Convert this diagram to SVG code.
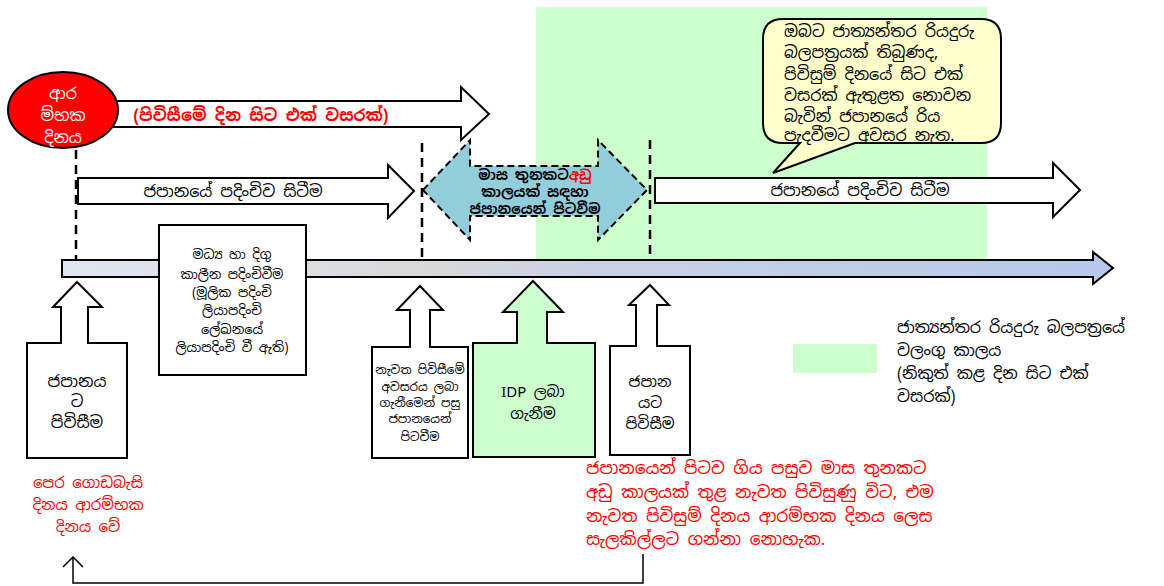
<svg xmlns="http://www.w3.org/2000/svg" width="1164" height="586" viewBox="0 0 1164 586">
<defs>
<linearGradient id="bar" x1="0" y1="0" x2="1" y2="0">
<stop offset="0" stop-color="#dfe5f2"/>
<stop offset="0.35" stop-color="#d9d9d9"/>
<stop offset="0.5" stop-color="#c8d1e4"/>
<stop offset="1" stop-color="#b7c9ec"/>
</linearGradient>
<style>
text{font-family:"Noto Sans Sinhala","Iskoola Pota","Noto Sans","DejaVu Sans",sans-serif;fill:#000}
.c{text-anchor:middle}
.red{fill:#ff0000}
.wht{fill:#ffffff}
.b{font-weight:bold}
.ol{fill:#ffffff;stroke:#000;stroke-width:2;stroke-linejoin:miter}
.dash{stroke:#000;stroke-width:2.5;stroke-dasharray:9,6;fill:none}
</style>
</defs>
<rect width="1164" height="586" fill="#ffffff"/>
<g id="validity-region"><rect x="536" y="7" width="451" height="252" fill="#ccffcc"/></g>

<g id="connectors">
<line class="dash" x1="76" y1="150" x2="76" y2="260"/>
<line class="dash" x1="422" y1="143" x2="422" y2="260"/>
<line class="dash" x1="650" y1="140" x2="650" y2="260"/>
<polyline points="643,554 643,583 73,583 73,557" fill="none" stroke="#000" stroke-width="1.5"/>
<polyline points="63,567 73,557 83,567" fill="none" stroke="#000" stroke-width="1.5"/>
</g>

<g id="timeline">
<polygon points="62,260 1093,260 1093,252 1113,268 1093,284 1093,277 62,277" fill="url(#bar)" stroke="#000" stroke-width="2"/>
</g>

<g id="one-year-arrow">
<polygon class="ol" points="100,101 461,101 461,87 489,114 461,140 461,127 100,127"/>
<text class="c red b" x="261" y="121" font-size="16.5">(පිවිසීමේ දින සිට එක් වසරක්)</text>
</g>

<g id="start-day">
<ellipse cx="63" cy="110" rx="55" ry="38" fill="#ff0000" stroke="#000" stroke-width="2"/>
<text class="c wht" x="63" y="99" font-size="16">ආර</text>
<text class="c wht" x="63" y="121" font-size="16">ම්භක</text>
<text class="c wht" x="63" y="143" font-size="16">දිනය</text>
</g>

<g id="stay-arrow-1">
<polygon class="ol" points="78,178 388,178 388,165 414,191 388,218 388,204 78,204"/>
<text class="c" x="233" y="197" font-size="16">ජපානයේ පදිංචිව සිටීම</text>
</g>

<g id="leave-arrow">
<polygon points="423,190 470,140 470,166 598,166 598,140 647,190 598,240 598,216 470,216 470,240" fill="#92cddc" stroke="#000" stroke-width="2" stroke-dasharray="7,4"/>
<text class="c b" x="535" y="180" font-size="14">මාස තුනකට<tspan class="red">අඩු</tspan></text>
<text class="c b" x="535" y="197" font-size="14">කාලයක් සඳහා</text>
<text class="c b" x="535" y="214" font-size="14">ජපානයෙන් පිටවීම</text>
</g>

<g id="stay-arrow-2">
<polygon class="ol" points="655,178 1053,178 1053,163 1080,190 1053,217 1053,203 655,203"/>
<text class="c" x="860" y="196" font-size="16">ජපානයේ පදිංචිව සිටීම</text>
</g>

<g id="callout">
<path d="M783,19 H981 Q1001,19 1001,39 V123 Q1001,143 981,143 H855 L773,173 L800,143 H783 Q763,143 763,123 V39 Q763,19 783,19 Z" fill="#ffffcc" stroke="#000" stroke-width="2"/>
<text x="784" y="37" font-size="16">ඔබට ජාත්‍යන්තර රියදුරු</text>
<text x="784" y="58" font-size="16">බලපත්‍රයක් තිබුණද,</text>
<text x="784" y="80" font-size="16">පිවිසුම් දිනයේ සිට එක්</text>
<text x="784" y="101" font-size="16">වසරක් ඇතුළත නොවන</text>
<text x="784" y="122" font-size="16">බැවින් ජපානයේ රිය</text>
<text x="784" y="141" font-size="16">පැදවීමට අවසර නැත.</text>
</g>

<g id="residence-box">
<rect class="ol" x="159" y="225" width="147" height="150"/>
<text class="c" x="232" y="259" font-size="13">මධ්‍ය හා දිගු</text>
<text class="c" x="232" y="279" font-size="13">කාලීන පදිංචිවීම</text>
<text class="c" x="232" y="297" font-size="13">(මූලික පදිංචි</text>
<text class="c" x="232" y="315" font-size="13">ලියාපදිංචි</text>
<text class="c" x="232" y="334" font-size="13">ලේඛනයේ</text>
<text class="c" x="232" y="352" font-size="13">ලියාපදිංචි වී ඇති)</text>
</g>

<g id="entry-1">
<polygon class="ol" points="77,282 102,307 88,307 88,343 127,343 127,458 27,458 27,343 61,343 61,307 53,307"/>
<text class="c" x="77" y="387" font-size="16">ජපානය</text>
<text class="c" x="77" y="407" font-size="16">ට</text>
<text class="c" x="77" y="428" font-size="16">පිවිසීම</text>
</g>

<g id="reentry-leave">
<polygon class="ol" points="420,286 443,310 430,310 430,347 468,347 468,458 372,458 372,347 410,347 410,310 397,310"/>
<text class="c" x="420" y="374" font-size="12">නැවත පිවිසීමේ</text>
<text class="c" x="420" y="391" font-size="12">අවසරය ලබා</text>
<text class="c" x="420" y="407" font-size="12">ගැනීමෙන් පසු</text>
<text class="c" x="420" y="423" font-size="12">ජපානයෙන්</text>
<text class="c" x="420" y="441" font-size="12">පිටවීම</text>
</g>

<g id="idp">
<polygon points="533,281 563,312 547,312 547,343 595,343 595,457 473,457 473,343 517,343 517,312 503,312" fill="#ccffcc" stroke="#000" stroke-width="2"/>
<text class="c" x="533" y="397" font-size="15">IDP ලබා</text>
<text class="c" x="533" y="419" font-size="15">ගැනීම</text>
</g>

<g id="entry-2">
<polygon class="ol" points="650,285 669,305 657,305 657,346 690,346 690,455 610,455 610,346 636,346 636,305 629,305"/>
<text class="c" x="650" y="387" font-size="15">ජපාන</text>
<text class="c" x="650" y="408" font-size="15">යට</text>
<text class="c" x="650" y="429" font-size="15">පිවිසීම</text>
</g>

<g id="legend">
<rect x="793" y="344" width="84" height="29" fill="#ccffcc"/>
<text x="897" y="333" font-size="16">ජාත්‍යන්තර රියදුරු බලපත්‍රයේ</text>
<text x="897" y="356" font-size="16">වලංගු කාලය</text>
<text x="897" y="379" font-size="16">(නිකුත් කළ දින සිට එක්</text>
<text x="897" y="402" font-size="16">වසරක්)</text>
</g>

<g id="note-left">
<text class="c red" x="88" y="488" font-size="15">පෙර ගොඩබැසි</text>
<text class="c red" x="88" y="510" font-size="15">දිනය ආරම්භක</text>
<text class="c red" x="88" y="532" font-size="15">දිනය වේ</text>
</g>

<g id="note-right">
<text class="red" x="586" y="474" font-size="17">ජපානයෙන් පිටව ගිය පසුව මාස තුනකට</text>
<text class="red" x="586" y="498" font-size="17">අඩු කාලයක් තුළ නැවත පිවිසුණු විට, එම</text>
<text class="red" x="586" y="522" font-size="17">නැවත පිවිසුම් දිනය ආරම්භක දිනය ලෙස</text>
<text class="red" x="586" y="545" font-size="17">සැලකිල්ලට ගන්නා නොහැක.</text>
</g>
</svg>
